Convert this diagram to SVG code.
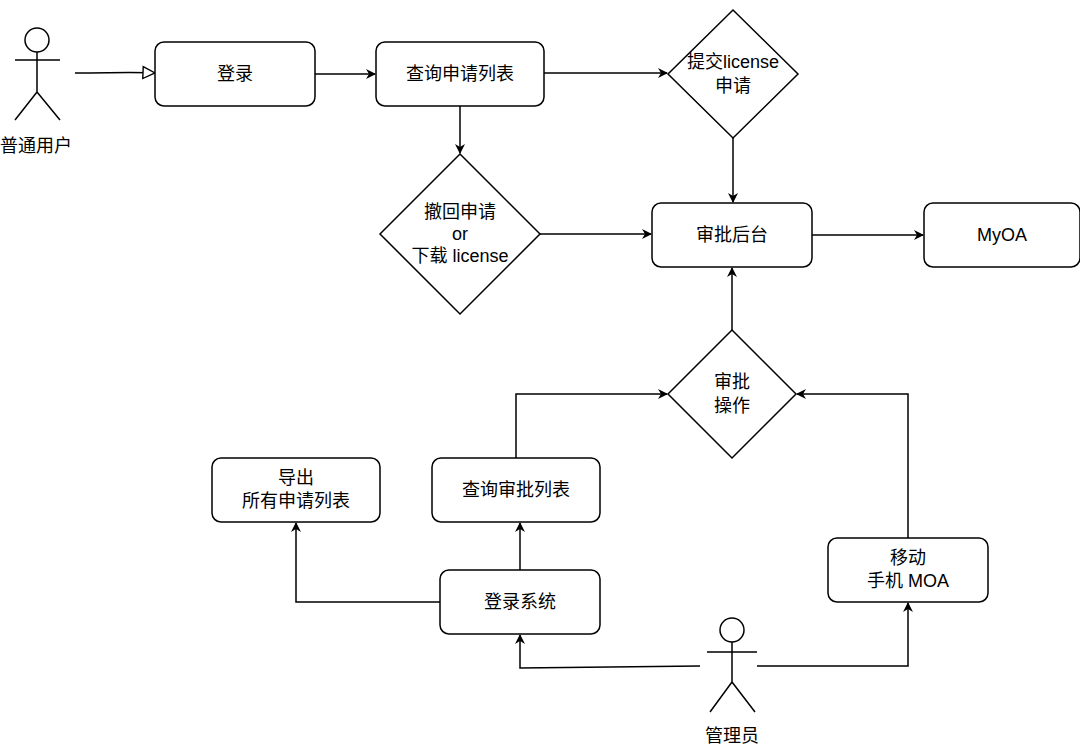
<svg xmlns="http://www.w3.org/2000/svg" width="1080" height="748" viewBox="0 0 1080 748">
<style>
.n{fill:#fff;stroke:#000;stroke-width:1.5}
.t{font-family:"Liberation Sans","Noto Sans CJK SC",sans-serif;font-size:18px;text-anchor:middle;fill:#000}
.c{fill:none;stroke:#000;stroke-width:1.5}
</style>
<defs>
<marker id="a" viewBox="0 0 10 10" refX="9" refY="5" markerWidth="10" markerHeight="10" markerUnits="userSpaceOnUse" orient="auto"><path d="M0,0L10,5L0,10L3,5Z" fill="#000"/></marker>
<marker id="h" viewBox="0 0 14 14" refX="13" refY="7" markerWidth="14" markerHeight="14" markerUnits="userSpaceOnUse" orient="auto"><path d="M1,1L13,7L1,13Z" fill="#fff" stroke="#000" stroke-width="1.4"/></marker>
</defs>
<rect width="1080" height="748" fill="#fff"/>
<g id="connectors">
<path class="c" d="M75,73C110,73 130,72 155,73" marker-end="url(#h)"/>
<path class="c" d="M315,74H375" marker-end="url(#a)"/>
<path class="c" d="M544,73H667" marker-end="url(#a)"/>
<path class="c" d="M733,138V202" marker-end="url(#a)"/>
<path class="c" d="M812,235H923" marker-end="url(#a)"/>
<path class="c" d="M460,106V153" marker-end="url(#a)"/>
<path class="c" d="M540,234H651" marker-end="url(#a)"/>
<path class="c" d="M732,330V268" marker-end="url(#a)"/>
<path class="c" d="M516,458V394H667" marker-end="url(#a)"/>
<path class="c" d="M520,570V523" marker-end="url(#a)"/>
<path class="c" d="M440,602H296V523" marker-end="url(#a)"/>
<path class="c" d="M908,538V394H797" marker-end="url(#a)"/>
<path class="c" d="M700,666L520,668V635" marker-end="url(#a)"/>
<path class="c" d="M757,666H908V603" marker-end="url(#a)"/>
</g>
<g id="user">
<circle class="n" cx="37" cy="40" r="12"/>
<path class="c" d="M37,52V92M15,60H60M37,92L15,120M37,92L60,120"/>
<text class="t" x="36" y="152">普通用户</text>
</g>
<g id="login"><rect class="n" x="155" y="42" width="160" height="64" rx="9"/><text class="t" x="235" y="80">登录</text></g>
<g id="query"><rect class="n" x="376" y="42" width="168" height="64" rx="9"/><text class="t" x="460" y="80">查询申请列表</text></g>
<g id="submit"><path class="n" d="M733,10L798,74L733,138L668,74Z"/><text class="t" x="733" y="68">提交license</text><text class="t" x="733" y="92">申请</text></g>
<g id="backend"><rect class="n" x="652" y="203" width="160" height="64" rx="9"/><text class="t" x="732" y="241">审批后台</text></g>
<g id="myoa"><rect class="n" x="924" y="203" width="156" height="64" rx="9"/><text class="t" x="1002" y="241">MyOA</text></g>
<g id="withdraw"><path class="n" d="M460,154L540,234L460,314L380,234Z"/><text class="t" x="460" y="218">撤回申请</text><text class="t" x="460" y="240">or</text><text class="t" x="460" y="262">下载 license</text></g>
<g id="approve"><path class="n" d="M732,330L796,394L732,458L668,394Z"/><text class="t" x="732" y="388">审批</text><text class="t" x="732" y="412">操作</text></g>
<g id="qapprove"><rect class="n" x="432" y="458" width="168" height="64" rx="9"/><text class="t" x="516" y="496">查询审批列表</text></g>
<g id="export"><rect class="n" x="212" y="458" width="168" height="64" rx="9"/><text class="t" x="296" y="484">导出</text><text class="t" x="296" y="507">所有申请列表</text></g>
<g id="loginsys"><rect class="n" x="440" y="570" width="160" height="64" rx="9"/><text class="t" x="520" y="608">登录系统</text></g>
<g id="moa"><rect class="n" x="828" y="538" width="160" height="64" rx="9"/><text class="t" x="908" y="564">移动</text><text class="t" x="908" y="587">手机 MOA</text></g>
<g id="admin">
<circle class="n" cx="732" cy="630" r="12"/>
<path class="c" d="M732,642V682M707,652H757M732,682L710,712M732,682L755,712"/>
<text class="t" x="732" y="742">管理员</text>
</g>
</svg>
